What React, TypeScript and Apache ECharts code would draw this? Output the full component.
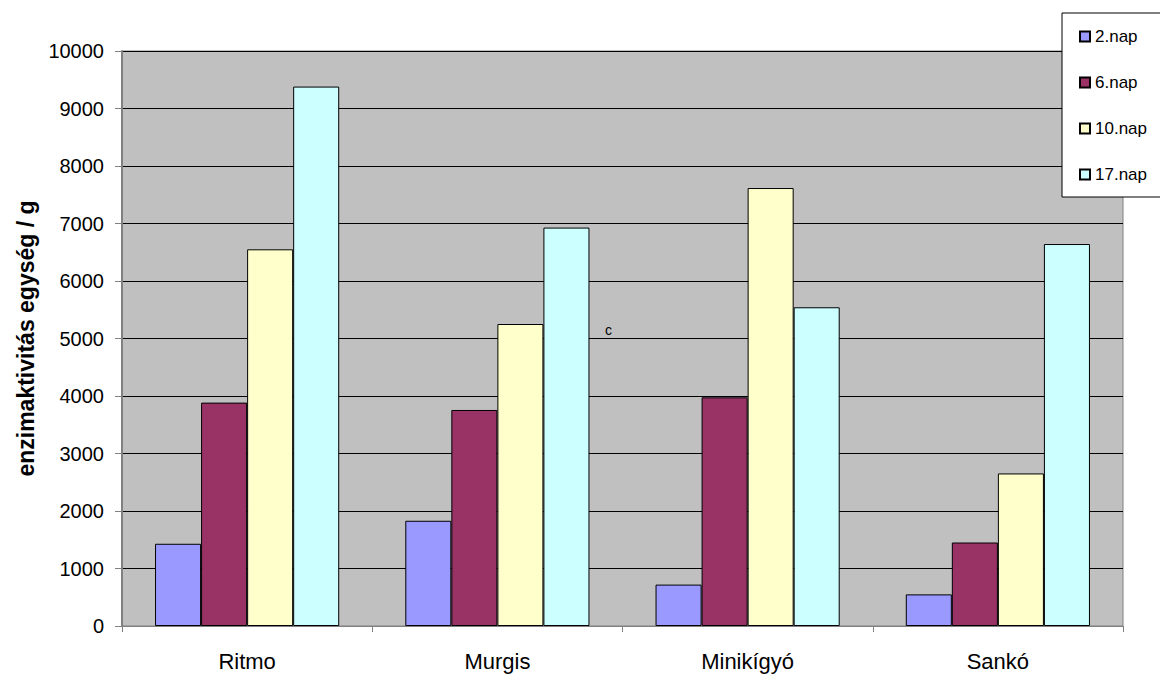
import React, { useEffect, useRef } from "react";
import * as echarts from "echarts";

const categories = ["Ritmo", "Murgis", "Minikígyó", "Sankó"];
const seriesNames = ["2.nap", "6.nap", "10.nap", "17.nap"];
const nap2 = [1430, 1830, 720, 550];
const nap6 = [3885, 3757, 3977, 1452];
const nap10 = [6551, 5252, 7617, 2653];
const nap17 = [9381, 6929, 5543, 6643];
const colors = ["#9999FF", "#993366", "#FFFFCC", "#CCFFFF"];
const yTicks = { min: 0, max: 10000, interval: 1000 };

export default function App() {
  const ref = useRef<HTMLDivElement>(null);
  useEffect(() => {
    if (!ref.current) return;
    const chart = echarts.init(ref.current, undefined, { renderer: "svg" });
    const values = [nap2, nap6, nap10, nap17];
    chart.setOption({
      animation: false,
      backgroundColor: "#FFFFFF",
      textStyle: { fontFamily: "Liberation Sans, Arial, sans-serif" },
      grid: {
        left: 122,
        right: 37,
        top: 51,
        bottom: 49,
        show: true,
        backgroundColor: "#C0C0C0",
        borderColor: "#808080",
        borderWidth: 1,
      },
      legend: {
        orient: "vertical",
        left: 1062,
        top: 13,
        padding: [15, 60, 14, 17],
        itemGap: 29,
        itemWidth: 10,
        itemHeight: 10,
        icon: "rect",
        backgroundColor: "#FFFFFF",
        borderColor: "#000000",
        borderWidth: 1,
        textStyle: { fontSize: 17, color: "#000", lineHeight: 17 },
        data: seriesNames,
      },
      xAxis: {
        type: "category",
        data: categories,
        axisLine: { show: true, lineStyle: { color: "#808080", width: 1 } },
        axisTick: { show: true, length: 6, lineStyle: { color: "#808080" } },
        axisLabel: { fontSize: 22, color: "#000", margin: 24 },
      },
      yAxis: {
        type: "value",
        min: yTicks.min,
        max: yTicks.max,
        interval: yTicks.interval,
        name: "enzimaktivitás egység / g",
        nameLocation: "middle",
        nameGap: 82,
        nameRotate: 90,
        nameTextStyle: { fontSize: 23, fontWeight: "bold", color: "#000" },
        axisLine: { show: true, lineStyle: { color: "#808080", width: 2 } },
        axisTick: { show: true, length: 7, inside: false, lineStyle: { color: "#808080" } },
        axisLabel: { fontSize: 20, color: "#000", margin: 18, formatter: (v: number) => String(v) },
        splitLine: { show: true, lineStyle: { color: "#000000", width: 1 } },
      },
      graphic: [
        {
          type: "text",
          left: 605,
          top: 323,
          style: { text: "c", fontSize: 14, fill: "#000", font: "14px Liberation Sans, Arial, sans-serif" },
        },
      ],
      series: seriesNames.map((name, i) => ({
        name,
        type: "bar",
        data: values[i],
        barGap: "0%",
        barCategoryGap: "26.4%",
        itemStyle: { color: colors[i], borderColor: "#000000", borderWidth: 1 },
      })),
    });
    return () => chart.dispose();
  }, []);
  return <div ref={ref} style={{ width: 1160, height: 675, position: "absolute", left: 0, top: 0 }} />;
}
